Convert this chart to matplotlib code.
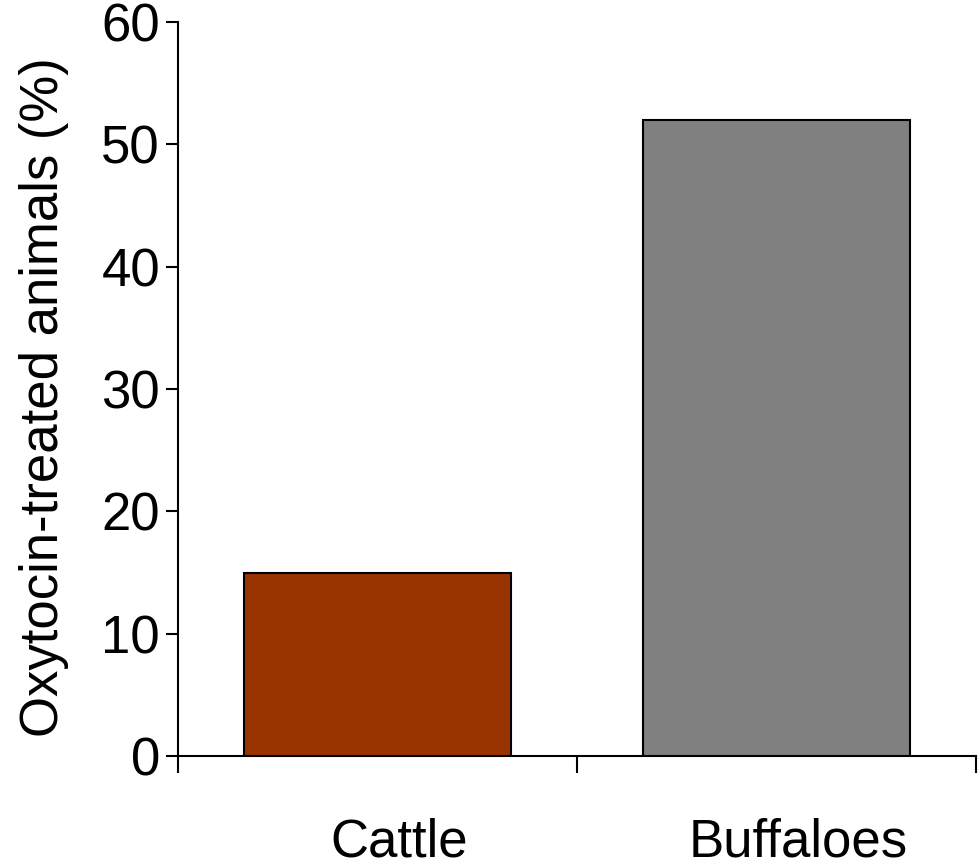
import matplotlib.pyplot as plt
import matplotlib.transforms as mtransforms
import numpy as np

plt.rcParams['font.family'] = ['Liberation Sans', 'DejaVu Sans']

categories = ["Cattle", "Buffaloes"]
values = [15, 52]
colors = ["#993300", "#808080"]

fig = plt.figure(figsize=(9.8, 8.63), dpi=100)
ax = fig.add_axes([178 / 980, 107 / 863, 798 / 980, 734 / 863])

x = np.arange(len(categories))
ax.bar(x, values, width=0.667, color=colors, edgecolor="black", linewidth=1.5, zorder=3)

ax.set_xlim(-0.5, 1.5)
ax.set_ylim(0, 60)
ax.set_yticks(np.arange(0, 61, 10))

ax.set_xticks(x)
ax.set_xticklabels(categories)
ax.set_xticks([-0.5, 0.5, 1.5], minor=True)
ax.tick_params(axis="x", which="major", length=0, pad=44, labelsize=38)
ax.tick_params(axis="x", which="minor", direction="out", length=12, width=1.5)
ax.tick_params(axis="y", direction="out", length=9, width=1.5, labelsize=38, pad=4)

# labels sit a little right of the bar centres in the original
shift = mtransforms.ScaledTranslation(22 / 100, 0, fig.dpi_scale_trans)
for lab in ax.get_xticklabels():
    lab.set_transform(lab.get_transform() + shift)

for s in ["top", "right"]:
    ax.spines[s].set_visible(False)
for s in ["left", "bottom"]:
    ax.spines[s].set_linewidth(1.5)

ax.set_ylabel("Oxytocin-treated animals (%)", fontsize=38)
ax.yaxis.set_label_coords(-0.137, 0.489)

plt.savefig("out.png", dpi=100)
